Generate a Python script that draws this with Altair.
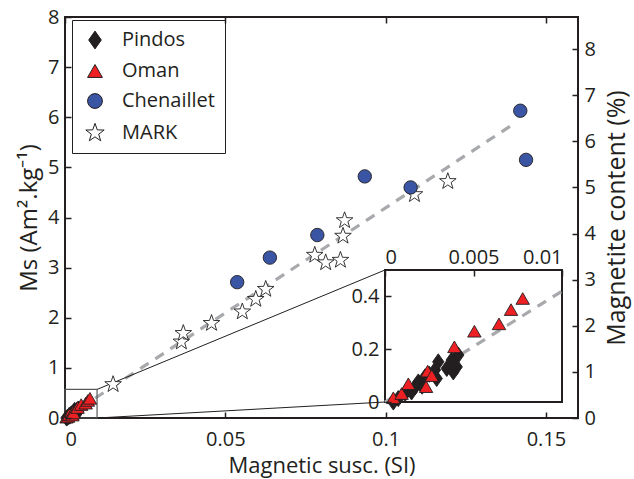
import altair as alt
import pandas as pd

# ---------------- data ----------------
series_names = ["Pindos", "Oman", "Chenaillet", "MARK"]

pindos_x = [0.00047, 0.00075, 0.00113, 0.0013, 0.0015, 0.0017, 0.00188, 0.0021, 0.00226,
            0.0025, 0.00282, 0.00292, 0.00301, 0.00349, 0.00377, 0.00386, 0.00405, 0.00414]
pindos_y = [0.0, 0.013, 0.032, 0.050, 0.038, 0.057, 0.076, 0.060, 0.095,
            0.105, 0.121, 0.089, 0.152, 0.127, 0.159, 0.114, 0.133, 0.178]

oman_x = [0.00047, 0.00094, 0.00132, 0.00232, 0.00241, 0.00264, 0.00392, 0.00505, 0.00644, 0.00712, 0.00778]
oman_y = [0.016, 0.032, 0.069, 0.058, 0.117, 0.100, 0.209, 0.268, 0.296, 0.350, 0.392]

chen_x = [0.0537, 0.0639, 0.0787, 0.0935, 0.1078, 0.1420, 0.1438]
chen_y = [2.71, 3.20, 3.65, 4.82, 4.60, 6.13, 5.15]

mark_x = [0.0150, 0.0363, 0.0369, 0.0457, 0.0553, 0.0595, 0.0626, 0.0779, 0.0813,
          0.0859, 0.0867, 0.0872, 0.1090, 0.1194]
mark_y = [0.67, 1.52, 1.69, 1.89, 2.12, 2.37, 2.57, 3.25, 3.10,
          3.15, 3.63, 3.94, 4.46, 4.72]

fit_x = [0.0, 0.14]
fit_y = [0.0, 5.87]
inset_fit_x = [0.0, 0.01]
inset_fit_y = [0.0, 0.42]

x_ticks = [0, 0.05, 0.1, 0.15]
y_ticks = [0, 1, 2, 3, 4, 5, 6, 7, 8]
mag_ticks = [0, 1, 2, 3, 4, 5, 6, 7, 8]
inset_x_ticks = [0, 0.005, 0.01]
inset_y_ticks = [0, 0.2, 0.4]

# ---------------- layout / style ----------------
W, H = 513, 401
X_DOM = [0, 0.16]
Y_DOM = [0, 8]
MAG_DOM = [0, 8.694]
INSET_X_DOM = [0, 0.01]
INSET_Y_DOM = [0, 0.5]
INSET_PX = [320, 497]      # inset box left/right (plot pixels)
INSET_PY = [385, 253]      # inset box bottom/top (plot pixels)
ZOOM_BOX_X = [0, 0.01]
ZOOM_BOX_Y = [0, 0.57]

FONT = "Open Sans"
INK = "#231f20"
colors = [INK, "#ed2024", "#3a55a4", "white"]
star = ("M0,-1.3 L0.306,-0.421 L1.236,-0.402 L0.494,0.161 L0.764,1.052 L0,0.52 "
        "L-0.764,1.052 L-0.494,0.161 L-1.236,-0.402 L-0.306,-0.421 Z")
diamond = "M0,-1.2 L0.85,0 L0,1.2 L-0.85,0 Z"
shapes = [diamond, "triangle-up", "circle", star]

def to_main_x(px):
    return X_DOM[0] + (X_DOM[1] - X_DOM[0]) * px / W

def to_main_y(py):
    return Y_DOM[0] + (Y_DOM[1] - Y_DOM[0]) * (H - py) / H

def frame(xs, ys, name):
    return pd.DataFrame({"x": xs, "y": ys, "series": name})

points = pd.concat([
    frame(pindos_x, pindos_y, "Pindos"),
    frame(oman_x, oman_y, "Oman"),
    frame(mark_x, mark_y, "MARK"),
    frame(chen_x, chen_y, "Chenaillet"),
], ignore_index=True)
points["order"] = range(len(points))
inset_points = points[points["series"].isin(["Pindos", "Oman"])]

fit_df = pd.DataFrame({"x": fit_x, "y": fit_y})
inset_fit_df = pd.DataFrame({"x": inset_fit_x, "y": inset_fit_y})
zoom_box = pd.DataFrame({"x": [ZOOM_BOX_X[0]], "x2": [ZOOM_BOX_X[1]],
                         "y": [ZOOM_BOX_Y[0]], "y2": [ZOOM_BOX_Y[1]]})
inset_box = pd.DataFrame({"x": [INSET_X_DOM[0]], "x2": [INSET_X_DOM[1]],
                          "y": [INSET_Y_DOM[0]], "y2": [INSET_Y_DOM[1]]})
cx = to_main_x(INSET_PX[0])
connectors = pd.DataFrame({
    "x": [ZOOM_BOX_X[1], ZOOM_BOX_X[1]],
    "y": [ZOOM_BOX_Y[1], ZOOM_BOX_Y[0]],
    "x2": [cx, cx],
    "y2": [to_main_y(INSET_PY[1]), to_main_y(INSET_PY[0])],
})
dummy = pd.DataFrame({"a": [0.0, 0.0]})

def sc(dom, rng=None):
    if rng is None:
        return alt.Scale(domain=dom, nice=False, zero=False)
    return alt.Scale(domain=dom, range=rng, nice=False, zero=False)

def fonts(title_size):
    return dict(labelFont=FONT, labelFontSize=20, labelColor=INK,
                titleFont=FONT, titleFontSize=title_size, titleColor=INK,
                titleFontWeight="normal")

def tick_axis(orient, offset, values, zindex=1):
    return alt.Axis(orient=orient, offset=offset, values=values, labels=False, domain=False,
                    tickSize=6, tickColor=INK, tickWidth=1.5, title=None, grid=False, zindex=zindex)

legend = alt.Legend(title=None, orient="none", legendX=7, legendY=3,
                    fillColor="white", strokeColor=INK, padding=10,
                    labelFont=FONT, labelFontSize=20, labelColor=INK, labelOffset=17,
                    symbolOffset=3, rowPadding=10, symbolSize=220, symbolStrokeWidth=1,
                    cornerRadius=0)
fill_enc = alt.Fill("series:N", scale=alt.Scale(domain=series_names, range=colors), legend=legend)
shape_enc = alt.Shape("series:N", scale=alt.Scale(domain=series_names, range=shapes), legend=legend)
stroke_enc = alt.Stroke("series:N", scale=alt.Scale(domain=series_names, range=[INK] * 4),
                        legend=legend)

# main fit line with the labelled main axes
fit = alt.Chart(fit_df).mark_line(color="#a7a9ac", strokeWidth=3.2, strokeDash=[10, 8]).encode(
    x=alt.X("x:Q", scale=sc(X_DOM), axis=alt.Axis(
        title="Magnetic susc. (SI)", values=x_ticks, format="~g", tickSize=0, domain=False,
        grid=False, labelPadding=11, titlePadding=6, **fonts(22))),
    y=alt.Y("y:Q", scale=sc(Y_DOM), axis=alt.Axis(
        title="Ms (Am².kg⁻¹)", values=y_ticks, format="~g", tickSize=0, domain=False,
        grid=False, labelPadding=6, titlePadding=6, **fonts(24))),
)

conn = alt.Chart(connectors).mark_rule(color=INK, strokeWidth=1).encode(
    x=alt.X("x:Q", scale=sc(X_DOM), axis=None), y=alt.Y("y:Q", scale=sc(Y_DOM), axis=None),
    x2="x2:Q", y2="y2:Q")

zbox = alt.Chart(zoom_box).mark_rect(fillOpacity=0, stroke="#58595b", strokeWidth=1.2).encode(
    x=alt.X("x:Q", scale=sc(X_DOM), axis=None), y=alt.Y("y:Q", scale=sc(Y_DOM), axis=None),
    x2="x2:Q", y2="y2:Q")

main_pts = alt.Chart(points).mark_point(filled=True, size=180, strokeWidth=0.9,
                                        opacity=1).encode(
    x=alt.X("x:Q", scale=sc(X_DOM), axis=None), y=alt.Y("y:Q", scale=sc(Y_DOM), axis=None),
    fill=fill_enc, shape=shape_enc, stroke=stroke_enc, order="order:Q")

ibox = alt.Chart(inset_box).mark_rect(fill="white", stroke=INK, strokeWidth=2).encode(
    x=alt.X("x:Q", scale=sc(INSET_X_DOM, INSET_PX), axis=alt.Axis(
        orient="top", offset=-INSET_PY[1], values=inset_x_ticks, format="~g", tickSize=0,
        domain=False, grid=False, labelPadding=3, title=None, **fonts(20))),
    y=alt.Y("y:Q", scale=sc(INSET_Y_DOM, INSET_PY), axis=alt.Axis(
        orient="left", offset=-INSET_PX[0], values=inset_y_ticks, format="~g", tickSize=0,
        domain=False, grid=False, labelPadding=6, title=None, **fonts(20))),
    x2="x2:Q", y2="y2:Q")

ifit = alt.Chart(inset_fit_df).mark_line(color="#a7a9ac", strokeWidth=3.2, strokeDash=[10, 8]).encode(
    x=alt.X("x:Q", scale=sc(INSET_X_DOM, INSET_PX), axis=None),
    y=alt.Y("y:Q", scale=sc(INSET_Y_DOM, INSET_PY), axis=None))

ipts = alt.Chart(inset_points).mark_point(filled=True, size=180, strokeWidth=0.9,
                                          opacity=1).encode(
    x=alt.X("x:Q", scale=sc(INSET_X_DOM, INSET_PX), axis=None),
    y=alt.Y("y:Q", scale=sc(INSET_Y_DOM, INSET_PY), axis=None),
    fill=fill_enc, shape=shape_enc, stroke=stroke_enc, order="order:Q")

# invisible layers carrying inward ticks and the right-hand axis
t1 = alt.Chart(dummy).mark_point(opacity=0).encode(
    x=alt.X("a:Q", scale=sc(X_DOM), axis=tick_axis("top", -H, x_ticks)),
    y=alt.Y("a:Q", scale=sc(Y_DOM), axis=tick_axis("right", -W, y_ticks)))
t2 = alt.Chart(dummy).mark_point(opacity=0).encode(
    x=alt.X("a:Q", scale=sc(X_DOM), axis=tick_axis("bottom", -H, x_ticks)),
    y=alt.Y("a:Q", scale=sc(MAG_DOM), axis=alt.Axis(
        orient="right", title="Magnetite content (%)", values=mag_ticks, format="~g",
        tickSize=0, domain=False, grid=False, labelPadding=6, titlePadding=29,
        titleAngle=270, titleBaseline="alphabetic", **fonts(25))))
t3 = alt.Chart(dummy).mark_point(opacity=0).encode(
    x=alt.X("a:Q", scale=sc(INSET_X_DOM, INSET_PX),
            axis=tick_axis("bottom", INSET_PY[1] - H, inset_x_ticks, zindex=2)),
    y=alt.Y("a:Q", scale=sc(MAG_DOM), axis=tick_axis("left", -W, mag_ticks)))
t4 = alt.Chart(dummy).mark_point(opacity=0).encode(
    y=alt.Y("a:Q", scale=sc(INSET_Y_DOM, INSET_PY),
            axis=tick_axis("right", INSET_PX[0] - W, inset_y_ticks, zindex=2)))

chart = alt.layer(fit, conn, zbox, main_pts, ibox, ifit, ipts, t1, t2, t3, t4).resolve_scale(
    x="independent", y="independent"
).properties(
    width=W, height=H,
    padding={"left": 65, "top": 17, "right": 56, "bottom": 61},
    autosize=alt.AutoSizeParams(type="none"),
    background="white",
).configure_view(stroke=INK, strokeWidth=2)

chart.save("out.html", embed_options={"renderer": "svg", "actions": False})
